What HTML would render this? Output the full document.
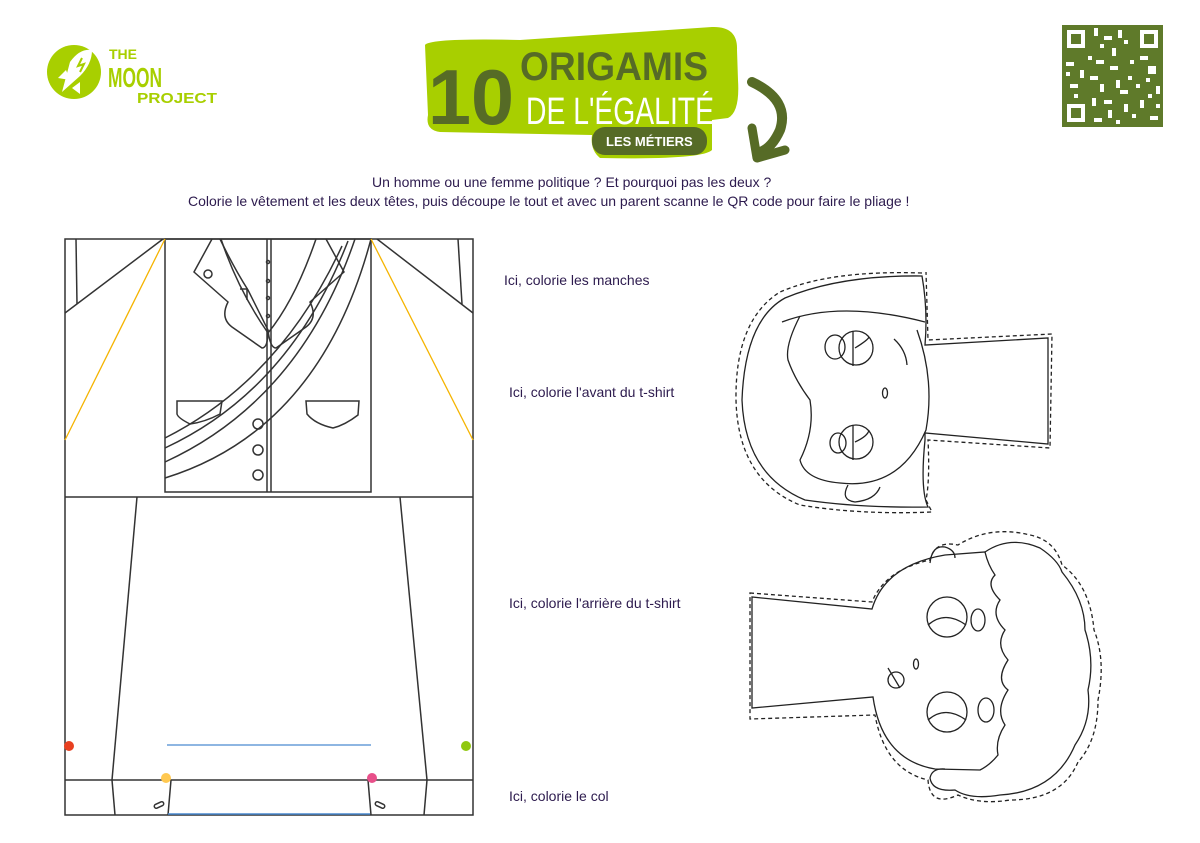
<!DOCTYPE html>
<html><head><meta charset="utf-8"><style>
html,body{margin:0;padding:0;background:#fff;}
body{width:1200px;height:843px;position:relative;overflow:hidden;font-family:"Liberation Sans",sans-serif;}
svg{position:absolute;left:0;top:0;}
.t{position:absolute;color:#2d1b4e;font-size:14px;white-space:nowrap;}
</style></head><body>
<svg width="1200" height="843" viewBox="0 0 1200 843">
<!-- Logo -->
<circle cx="74" cy="72" r="27" fill="#a8cf00"/>
<path d="M62 92 L70 62 Q80 48 92 50 Q92 64 80 76 Z" fill="#fff"/>
<path d="M58 78 L66 70 L70 80 Z M72 88 L80 82 L80 94 Z" fill="#fff"/>
<path d="M82 58 L78 66 L84 64 L80 72" stroke="#a8cf00" stroke-width="2" fill="none"/>
<text x="109" y="59" font-family="Liberation Sans" font-weight="bold" font-size="14" fill="#a8cf00">THE</text>
<text x="108" y="87" font-family="Liberation Sans" font-weight="bold" font-size="28" fill="#a8cf00" textLength="54" lengthAdjust="spacingAndGlyphs">MOON</text>
<text x="137" y="103" font-family="Liberation Sans" font-weight="bold" font-size="15" fill="#a8cf00" textLength="80" lengthAdjust="spacingAndGlyphs">PROJECT</text>
<!-- Title -->
<path d="M425 45 Q430 38 520 40 L712 27 Q738 26 737 50 L738 80 Q740 112 728 118 L712 120 L712 150 Q702 160 600 158 Q590 150 592 135 L440 132 Q425 130 428 115 Z" fill="#a8cf00"/>
<text x="428" y="124" font-family="Liberation Sans" font-weight="bold" font-size="78" fill="#566b26" textLength="86" lengthAdjust="spacingAndGlyphs">10</text>
<text x="520" y="80" font-family="Liberation Sans" font-weight="bold" font-size="40" fill="#566b26" textLength="188" lengthAdjust="spacingAndGlyphs">ORIGAMIS</text>
<text x="526" y="124" font-family="Liberation Sans" font-size="38" fill="#fff" textLength="188" lengthAdjust="spacingAndGlyphs">DE L'ÉGALITÉ</text>
<rect x="592" y="127" width="115" height="28" rx="13" fill="#566b26"/>
<text x="606" y="146" font-family="Liberation Sans" font-weight="bold" font-size="13" fill="#fff">LES MÉTIERS</text>
<path d="M752 82 Q790 100 780 130 Q772 148 760 152" stroke="#566b26" stroke-width="10" fill="none" stroke-linecap="round"/>
<path d="M752 128 L757 158 L785 150" stroke="#566b26" stroke-width="9" fill="none" stroke-linecap="round" stroke-linejoin="round"/>
<!-- QR -->
<rect x="1062" y="25" width="101" height="102" fill="#5f7a2a"/>
<g fill="#fff">
<rect x="1067" y="30" width="18" height="18"/><rect x="1140" y="30" width="18" height="18"/><rect x="1067" y="104" width="18" height="18"/>
<rect x="1094" y="28" width="4" height="8"/><rect x="1104" y="36" width="8" height="4"/><rect x="1118" y="30" width="4" height="8"/><rect x="1096" y="60" width="8" height="4"/><rect x="1066" y="62" width="8" height="4"/><rect x="1080" y="70" width="4" height="8"/><rect x="1110" y="66" width="8" height="4"/><rect x="1130" y="60" width="4" height="4"/><rect x="1148" y="66" width="8" height="8"/><rect x="1100" y="84" width="4" height="8"/><rect x="1120" y="90" width="8" height="4"/><rect x="1140" y="100" width="4" height="8"/><rect x="1150" y="116" width="8" height="4"/><rect x="1108" y="110" width="4" height="8"/><rect x="1070" y="84" width="8" height="4"/><rect x="1128" y="76" width="4" height="4"/><rect x="1094" y="118" width="8" height="4"/><rect x="1156" y="86" width="4" height="8"/>
<rect x="1100" y="44" width="4" height="4"/><rect x="1112" y="48" width="4" height="8"/><rect x="1124" y="40" width="4" height="4"/><rect x="1088" y="56" width="4" height="4"/><rect x="1140" y="56" width="8" height="4"/><rect x="1066" y="72" width="4" height="4"/><rect x="1090" y="76" width="8" height="4"/><rect x="1116" y="80" width="4" height="8"/><rect x="1136" y="84" width="4" height="4"/><rect x="1146" y="78" width="4" height="4"/><rect x="1074" y="94" width="4" height="4"/><rect x="1092" y="98" width="4" height="8"/><rect x="1104" y="100" width="8" height="4"/><rect x="1124" y="104" width="4" height="8"/><rect x="1132" y="114" width="4" height="4"/><rect x="1116" y="120" width="4" height="4"/><rect x="1156" y="104" width="4" height="4"/><rect x="1148" y="94" width="4" height="4"/>
</g>
<g fill="#5f7a2a"><rect x="1071" y="34" width="10" height="10"/><rect x="1144" y="34" width="10" height="10"/><rect x="1071" y="108" width="10" height="10"/></g>

<!-- Jacket -->
<g fill="none" stroke="#333" stroke-width="1.5">
<rect x="65" y="239" width="408" height="576"/>
<line x1="65" y1="497" x2="473" y2="497"/>
<rect x="165" y="239" width="206" height="253"/>
<line x1="267" y1="239" x2="267" y2="492"/><line x1="271" y1="239" x2="271" y2="492"/>
<line x1="65" y1="313" x2="163" y2="239"/><line x1="76" y1="239" x2="77" y2="304"/>
<line x1="473" y1="313" x2="377" y2="239"/><line x1="458" y1="239" x2="462" y2="304"/>
<path d="M212 239 L194 272 L228 302 Q220 318 232 327 L262 348 Q268 348 268 330 L248 290 Q234 268 220 239"/>
<path d="M221 239 Q238 290 268 333 Q295 300 316 239"/>
<path d="M326 239 L344 272 L310 302 Q318 318 306 327 L276 348 Q270 348 268 330"/>
<path d="M240 289 L247 289 L247 300"/>
<circle cx="208" cy="274" r="4"/><circle cx="268" cy="262" r="1.5"/><circle cx="268" cy="281" r="1.5"/><circle cx="268" cy="298" r="1.5"/><circle cx="268" cy="316" r="1.5"/>
<path d="M165 438 Q280 380 342 246"/>
<path d="M165 448 Q290 390 348 241"/>
<path d="M165 462 Q300 400 355 239"/>
<path d="M165 478 Q320 430 371 239"/>
<path d="M177 401 L222 401 L220 414 Q205 422 190 424 Q178 418 177 414 Z"/>
<path d="M306 401 L359 401 L358 415 Q345 425 333 428 Q315 424 307 414 Z"/>
<circle cx="258" cy="424" r="5"/><circle cx="258" cy="450" r="5"/><circle cx="258" cy="475" r="5"/>
<line x1="137" y1="497" x2="112" y2="780"/><line x1="400" y1="497" x2="427" y2="780"/>
<line x1="65" y1="780" x2="473" y2="780"/>
<line x1="112" y1="780" x2="115" y2="815"/><line x1="171" y1="780" x2="168" y2="815"/>
<line x1="368" y1="780" x2="371" y2="815"/><line x1="427" y1="780" x2="424" y2="815"/>
<rect x="154" y="803" width="10" height="4" rx="2" transform="rotate(-25 159 805)"/>
<rect x="375" y="803" width="10" height="4" rx="2" transform="rotate(25 380 805)"/>
</g>
<line x1="65" y1="440" x2="165" y2="239" stroke="#f5b400" stroke-width="1.3"/>
<line x1="473" y1="440" x2="371" y2="239" stroke="#f5b400" stroke-width="1.3"/>
<line x1="167" y1="745" x2="371" y2="745" stroke="#4a8ad0" stroke-width="1.3"/>
<line x1="168" y1="814" x2="370" y2="814" stroke="#4a8ad0" stroke-width="1.5"/>
<circle cx="69" cy="746" r="5" fill="#e84020"/><circle cx="466" cy="746" r="5" fill="#90c810"/>
<circle cx="166" cy="778" r="5" fill="#ffc850"/><circle cx="372" cy="778" r="5" fill="#e8508a"/>

<!-- Face 1 -->
<g fill="none" stroke="#222" stroke-width="1.3">
<path d="M922 273 Q830 270 780 292 Q735 320 736 400 Q738 480 800 505 Q860 515 932 512 L926 500 Q930 480 928 440 L1050 448 L1052 334 L928 340 L926 272" stroke-dasharray="4 3"/>
<path d="M922 276 Q840 275 785 298 Q745 320 742 400 Q745 475 805 500 Q860 508 928 507 Q920 490 925 440 L925 433 L1048 444 L1048 338 L925 345 Q928 310 922 276 Z"/>
<path d="M782 322 Q840 300 925 322"/>
<path d="M800 316 Q785 345 788 360 Q795 380 810 400 Q815 430 800 460 Q805 480 840 483 Q900 490 926 430 Q935 380 917 330"/>
<circle cx="856" cy="348" r="17"/><ellipse cx="835" cy="347" rx="10" ry="12"/>
<path d="M853 331 L853 366 M855 348 Q868 340 869 337"/>
<circle cx="856" cy="442" r="17"/><ellipse cx="838" cy="443" rx="8" ry="10"/>
<path d="M853 425 L853 460 M855 442 Q868 436 869 430"/>
<path d="M894 339 Q906 350 907 365"/>
<ellipse cx="885" cy="393" rx="2.5" ry="5"/>
<path d="M848 485 Q840 500 855 502 Q875 500 880 487"/>
</g>
<!-- Face 2 -->
<g fill="none" stroke="#222" stroke-width="1.3">
<path d="M750 593 L872 602 Q885 570 930 560 Q935 540 958 545 Q990 525 1030 535 Q1055 540 1062 565 Q1090 585 1094 630 Q1106 660 1098 700 Q1098 740 1078 762 Q1062 800 1010 800 Q980 805 958 795 Q930 808 928 780 Q885 770 875 715 L750 719 Z" stroke-dasharray="4 3"/>
<path d="M872 609 Q885 565 945 555 L985 552 Q988 565 995 575 Q985 585 1000 600 Q990 615 1005 630 Q995 645 1008 660 Q995 680 1008 690 Q995 710 1005 725 Q995 740 998 755 Q990 765 980 770 L935 769 Q882 760 873 697 L752 708 L752 597 Z"/>
<path d="M985 552 Q1010 535 1040 548 Q1058 560 1062 572 Q1085 600 1085 630 Q1095 660 1088 690 Q1092 720 1075 745 Q1055 792 1000 795 Q970 800 955 790 Q932 792 930 778 Q932 768 945 769"/>
<path d="M930 563 Q932 545 945 547 Q955 550 955 558"/>
<circle cx="947" cy="617" r="20"/><path d="M928 625 Q945 610 966 625"/>
<circle cx="947" cy="712" r="20"/><path d="M928 720 Q945 705 966 720"/>
<ellipse cx="978" cy="620" rx="7" ry="11"/><ellipse cx="986" cy="710" rx="8" ry="12"/>
<ellipse cx="916" cy="664" rx="2.5" ry="5"/>
<circle cx="896" cy="680" r="8"/><path d="M888 668 L900 688"/>
</g>
</svg>
<div class="t" style="left:372px;top:174px;">Un homme ou une femme politique ? Et pourquoi pas les deux ?</div>
<div class="t" style="left:188px;top:193px;">Colorie le vêtement et les deux têtes, puis découpe le tout et avec un parent scanne le QR code pour faire le pliage !</div>
<div class="t" style="left:504px;top:272px;">Ici, colorie les manches</div>
<div class="t" style="left:509px;top:384px;">Ici, colorie l'avant du t-shirt</div>
<div class="t" style="left:509px;top:595px;">Ici, colorie l'arrière du t-shirt</div>
<div class="t" style="left:509px;top:788px;">Ici, colorie le col</div>
</body></html>
